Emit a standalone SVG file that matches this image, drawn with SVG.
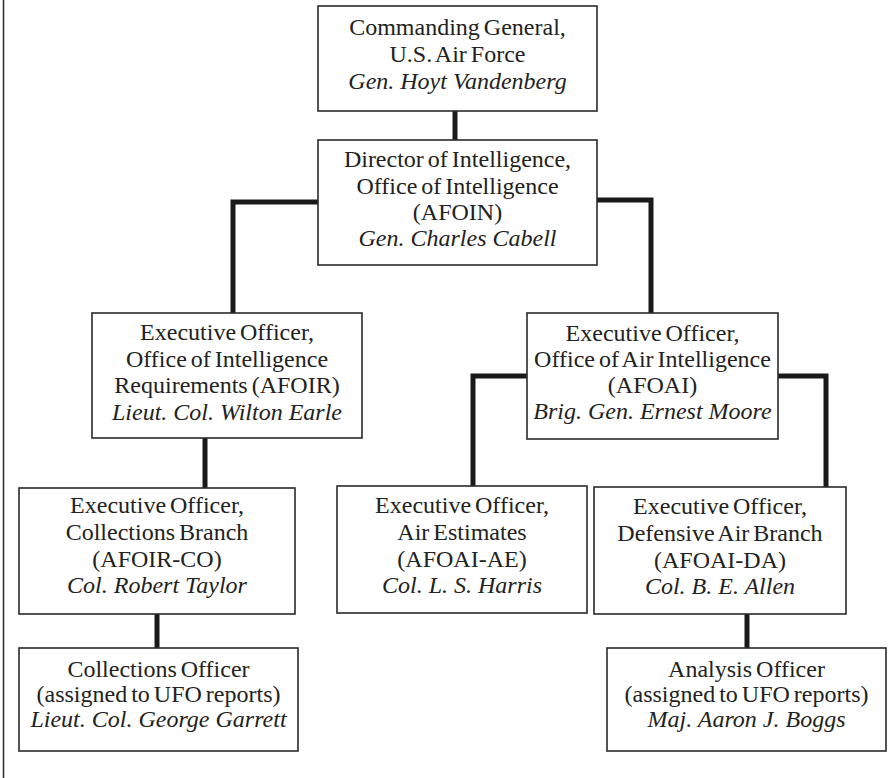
<svg xmlns="http://www.w3.org/2000/svg" width="894" height="778" viewBox="0 0 894 778">
<style>
.box{fill:#fff;stroke:#2a2a2a;stroke-width:1.6}
text{font-family:'Liberation Serif','Times New Roman',serif;font-size:24px;word-spacing:-2px;fill:#222;text-anchor:middle}
.i{font-style:italic;word-spacing:0}
.c{fill:none;stroke:#1a1a1a;stroke-width:5;stroke-linejoin:miter;stroke-linecap:butt}
</style>
<rect width="894" height="778" fill="#fff"/>
<line x1="3.5" y1="0" x2="3.5" y2="778" stroke="#2a2a2a" stroke-width="1.5"/>
<g id="connectors">
<path class="c" d="M455,111 V140"/>
<path class="c" d="M318,202 H233 V313"/>
<path class="c" d="M597,200 H651 V313"/>
<path class="c" d="M527,376 H473 V486"/>
<path class="c" d="M778,376 H826 V487"/>
<path class="c" d="M205,438 V488"/>
<path class="c" d="M157,614 V648"/>
<path class="c" d="M747,614 V648"/>
</g>
<g id="cg">
<rect class="box" x="318" y="6" width="279" height="105"/>
<text x="457.5" y="35">Commanding General,</text>
<text x="457.5" y="62">U.S. Air Force</text>
<text class="i" x="457.5" y="89">Gen. Hoyt Vandenberg</text>
</g>
<g id="afoin">
<rect class="box" x="318" y="140" width="279" height="125"/>
<text x="457.5" y="167">Director of Intelligence,</text>
<text x="457.5" y="194">Office of Intelligence</text>
<text x="457.5" y="220">(AFOIN)</text>
<text class="i" x="457.5" y="246">Gen. Charles Cabell</text>
</g>
<g id="afoir">
<rect class="box" x="92" y="313" width="270" height="125"/>
<text x="227" y="340">Executive Officer,</text>
<text x="227" y="367">Office of Intelligence</text>
<text x="227" y="393">Requirements (AFOIR)</text>
<text class="i" x="227" y="420">Lieut. Col. Wilton Earle</text>
</g>
<g id="afoai">
<rect class="box" x="527" y="313" width="251" height="126"/>
<text x="652.5" y="341">Executive Officer,</text>
<text x="652.5" y="367">Office of Air Intelligence</text>
<text x="652.5" y="393">(AFOAI)</text>
<text class="i" x="652.5" y="419">Brig. Gen. Ernest Moore</text>
</g>
<g id="afoai-ae">
<rect class="box" x="337" y="486" width="250" height="127"/>
<text x="462" y="513">Executive Officer,</text>
<text x="462" y="540">Air Estimates</text>
<text x="462" y="567">(AFOAI-AE)</text>
<text class="i" x="462" y="593">Col. L. S. Harris</text>
</g>
<g id="afoai-da">
<rect class="box" x="594" y="487" width="252" height="127"/>
<text x="720" y="514">Executive Officer,</text>
<text x="720" y="541">Defensive Air Branch</text>
<text x="720" y="568">(AFOAI-DA)</text>
<text class="i" x="720" y="594">Col. B. E. Allen</text>
</g>
<g id="afoir-co">
<rect class="box" x="19" y="488" width="276" height="126"/>
<text x="157" y="513">Executive Officer,</text>
<text x="157" y="540">Collections Branch</text>
<text x="157" y="567">(AFOIR-CO)</text>
<text class="i" x="157" y="593">Col. Robert Taylor</text>
</g>
<g id="coll-officer">
<rect class="box" x="19" y="648" width="279" height="103"/>
<text x="158.5" y="677">Collections Officer</text>
<text x="158.5" y="702">(assigned to UFO reports)</text>
<text class="i" x="158.5" y="727">Lieut. Col. George Garrett</text>
</g>
<g id="analysis-officer">
<rect class="box" x="607" y="648" width="279" height="103"/>
<text x="746.5" y="677">Analysis Officer</text>
<text x="746.5" y="702">(assigned to UFO reports)</text>
<text class="i" x="746.5" y="727">Maj. Aaron J. Boggs</text>
</g>
</svg>
